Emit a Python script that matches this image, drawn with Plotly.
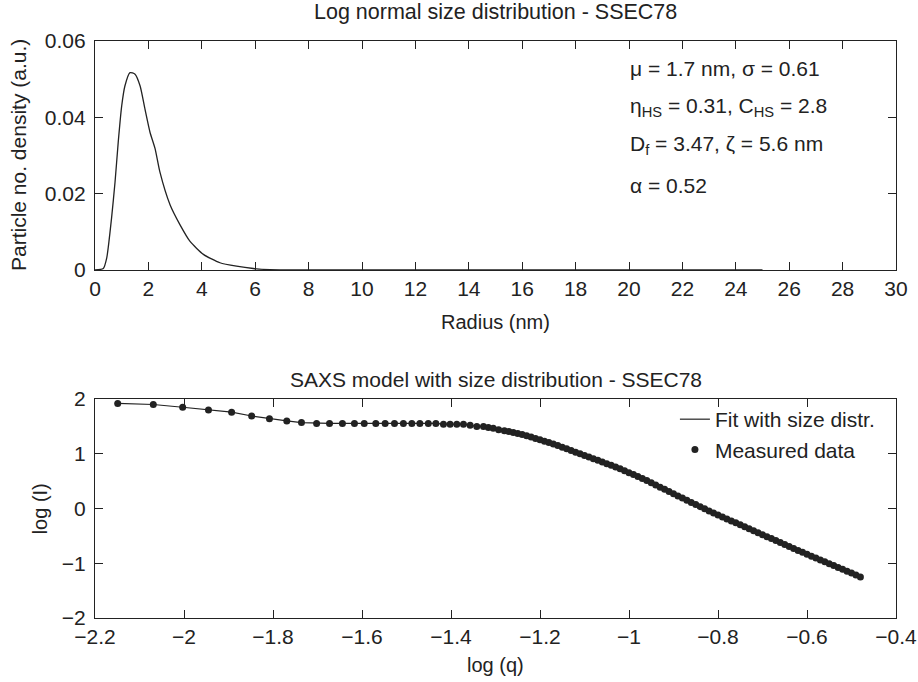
import plotly.graph_objects as go

# ---- Top panel: log-normal size distribution ----
radius_nm = [0, 0.31, 0.44, 0.62, 0.75, 0.87, 1.0, 1.12, 1.31, 1.5, 1.69, 1.87, 2.06, 2.25,
             2.43, 2.81, 3.18, 3.56, 4.06, 4.68, 5.3, 5.93, 6.55, 8, 10, 15, 20, 25]
density = [0, 0.0004, 0.0032, 0.0136, 0.023, 0.0335, 0.043, 0.0482, 0.0517, 0.0513, 0.0482,
           0.0422, 0.0361, 0.0318, 0.0257, 0.0171, 0.0119, 0.0075, 0.0041, 0.0019, 0.001,
           0.0004, 0.0001, 0.00003, 0, 0, 0, 0]

# ---- Bottom panel: SAXS data ----
log_q = [-2.149, -2.069, -2.003, -1.945, -1.893, -1.848, -1.808, -1.769, -1.736, -1.702,
         -1.673, -1.644, -1.617, -1.595, -1.569, -1.548, -1.527, -1.507, -1.488, -1.470,
         -1.451, -1.434, -1.417, -1.402, -1.387, -1.372, -1.357, -1.342, -1.327, -1.316,
         -1.305, -1.293,
         -1.28, -1.27, -1.26, -1.25, -1.24, -1.23, -1.22, -1.21, -1.20, -1.19, -1.18, -1.17,
         -1.16, -1.15, -1.14, -1.13, -1.12, -1.11, -1.10, -1.09, -1.08, -1.07, -1.06, -1.05,
         -1.04, -1.03, -1.02, -1.01, -1.00, -0.99, -0.98, -0.97, -0.96, -0.95, -0.94, -0.93,
         -0.92, -0.91, -0.90, -0.89, -0.88, -0.87, -0.86, -0.85, -0.84, -0.83, -0.82, -0.81,
         -0.80, -0.79, -0.78, -0.77, -0.76, -0.75, -0.74, -0.73, -0.72, -0.71, -0.70, -0.69,
         -0.68, -0.67, -0.66, -0.65, -0.64, -0.63, -0.62, -0.61, -0.60, -0.59, -0.58, -0.57,
         -0.56, -0.55, -0.54, -0.53, -0.52, -0.51, -0.50, -0.49, -0.48]
log_I = [1.92, 1.90, 1.85, 1.80, 1.76, 1.69, 1.64, 1.60, 1.57, 1.555,
         1.555, 1.555, 1.555, 1.555, 1.555, 1.555, 1.555, 1.555, 1.555, 1.555,
         1.555, 1.555, 1.54, 1.54, 1.54, 1.54, 1.52, 1.50, 1.50, 1.48,
         1.465, 1.44,
         1.42, 1.405, 1.39, 1.37, 1.35, 1.33, 1.305, 1.28, 1.255, 1.23, 1.205, 1.18,
         1.15, 1.12, 1.09, 1.06, 1.03, 1.00, 0.97, 0.94, 0.91, 0.88, 0.85, 0.82,
         0.79, 0.76, 0.725, 0.69, 0.655, 0.62, 0.585, 0.548, 0.51, 0.47, 0.43, 0.39,
         0.35, 0.31, 0.27, 0.23, 0.19, 0.151, 0.112, 0.073, 0.034, -0.005, -0.044, -0.083,
         -0.12, -0.155, -0.19, -0.226, -0.262, -0.298, -0.334, -0.37, -0.406, -0.442, -0.478, -0.514,
         -0.55, -0.586, -0.622, -0.658, -0.694, -0.73, -0.765, -0.80, -0.835, -0.87, -0.905, -0.94,
         -0.974, -1.008, -1.042, -1.076, -1.11, -1.144, -1.18, -1.215, -1.25]

top_xticks = list(range(0, 31, 2))
top_yticks = [0, 0.02, 0.04, 0.06]
top_yticktext = ["0", "0.02", "0.04", "0.06"]
bot_xticks = [-2.2, -2.0, -1.8, -1.6, -1.4, -1.2, -1.0, -0.8, -0.6, -0.4]
bot_xticktext = ["\u22122.2", "\u22122", "\u22121.8", "\u22121.6", "\u22121.4", "\u22121.2",
                 "\u22121", "\u22120.8", "\u22120.6", "\u22120.4"]
bot_yticks = [-2, -1, 0, 1, 2]
bot_yticktext = ["\u22122", "\u22121", "0", "1", "2"]

FONT = "Liberation Sans, Arial, Helvetica, sans-serif"
INK = "#222222"
FS = 21

fig = go.Figure()
fig.add_trace(go.Scatter(x=radius_nm, y=density, mode="lines",
                         line=dict(color=INK, width=1.3, shape="spline", smoothing=0.6),
                         showlegend=False, xaxis="x", yaxis="y"))
fig.add_trace(go.Scatter(x=log_q, y=log_I, mode="lines", name="Fit with size distr.",
                         line=dict(color=INK, width=1.2), xaxis="x2", yaxis="y2"))
fig.add_trace(go.Scatter(x=log_q, y=log_I, mode="markers", name="Measured data",
                         marker=dict(color=INK, size=7), xaxis="x2", yaxis="y2"))

axis_common = dict(showline=True, linecolor=INK, linewidth=1.4, mirror="allticks", ticks="inside",
                   ticklen=8, tickwidth=1.2, tickcolor=INK, showgrid=False, zeroline=False,
                   automargin=False, tickfont=dict(family=FONT, size=FS, color=INK))

top_dom = [0.6031, 1.0]
bot_dom = [0.0, 0.3795]

fig.update_layout(
    width=918, height=682,
    margin=dict(l=95, r=22, t=41, b=64, autoexpand=False),
    paper_bgcolor="white", plot_bgcolor="white",
    font=dict(family=FONT, size=FS, color=INK),
    xaxis=dict(domain=[0, 1], anchor="y", range=[0, 30], tickmode="array", tickvals=top_xticks, **axis_common),
    yaxis=dict(domain=top_dom, anchor="x", range=[0, 0.06], tickmode="array", tickvals=top_yticks,
               ticktext=top_yticktext, ticklabelstandoff=4, **axis_common),
    xaxis2=dict(domain=[0, 1], anchor="y2", range=[-2.2, -0.4], tickmode="array", tickvals=bot_xticks,
                ticktext=bot_xticktext, **axis_common),
    yaxis2=dict(domain=bot_dom, anchor="x2", range=[-2, 2], tickmode="array", tickvals=bot_yticks,
                ticktext=bot_yticktext, ticklabelstandoff=4, **axis_common),
    legend=dict(x=0.724, xanchor="left", y=0.3795, yanchor="top", bgcolor="rgba(0,0,0,0)",
                borderwidth=0, font=dict(family=FONT, size=FS, color=INK)),
    showlegend=True,
)

ann = []
def add(text, x, y, xanchor="center", textangle=0, size=FS):
    ann.append(dict(text=text, x=x, y=y, xref="paper", yref="paper", xanchor=xanchor, yanchor="middle",
                    showarrow=False, textangle=textangle, font=dict(family=FONT, size=size, color=INK)))

add("Log normal size distribution - SSEC78", 0.5, 1.050, size=21.5)
add("SAXS model with size distribution - SSEC78", 0.5, 0.4125, size=21)
add("Radius (nm)", 0.5, 0.513, size=20)
add("log (q)", 0.5, -0.0815, size=20)
add("Particle no. density (a.u.)", -0.0961, 0.8024, textangle=-90, size=21)
add("log (I)", -0.0687, 0.19, textangle=-90, size=20)
add("\u03bc = 1.7 nm, \u03c3 = 0.61", 0.6654, 0.953, xanchor="left")
add("\u03b7<sub>HS</sub> = 0.31, C<sub>HS</sub> = 2.8", 0.6654, 0.886, xanchor="left")
add("D<sub>f</sub> = 3.47, \u03b6 = 5.6 nm", 0.6654, 0.820, xanchor="left")
add("\u03b1 = 0.52", 0.6654, 0.750, xanchor="left")
fig.update_layout(annotations=ann)

# remove the browser's default 8px body margin so the figure sits at the page origin
fig.write_html("out.html", config={"displayModeBar": False},
               post_script="document.body.style.margin='0';document.body.style.overflow='hidden';")
